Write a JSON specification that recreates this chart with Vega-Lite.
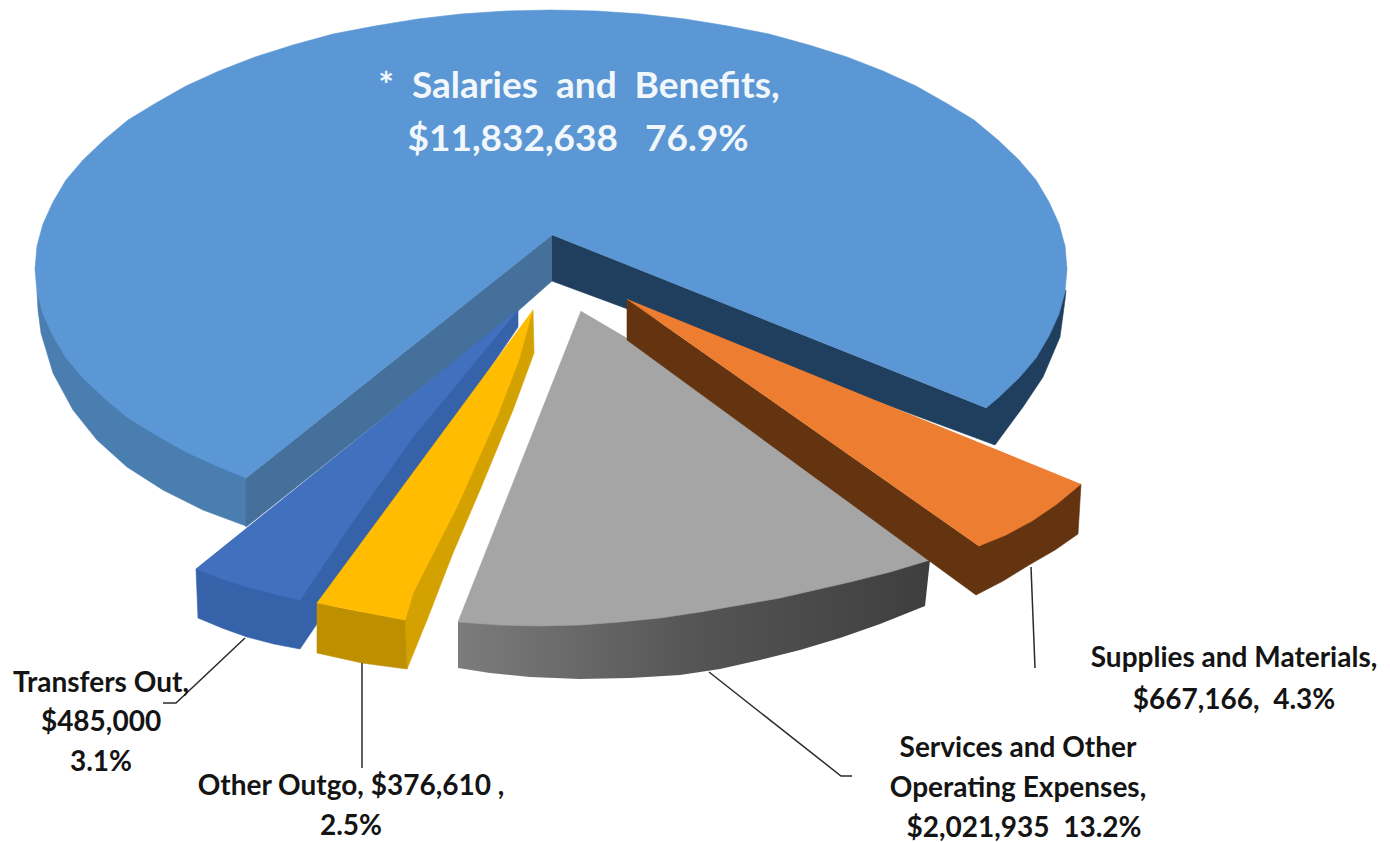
{"$schema":"https://vega.github.io/schema/vega-lite/v6.json","width":1390,"height":842,"padding":0,"autosize":"none","background":"white","config":{"view":{"stroke":null}},
"datasets":{"shapes":[
{"part":"Salaries side","i":101,"x":37,"y":292},{"part":"Salaries side","i":102,"x":38,"y":310},{"part":"Salaries side","i":103,"x":41,"y":333},{"part":"Salaries side","i":104,"x":53,"y":373},{"part":"Salaries side","i":105,"x":73,"y":410},{"part":"Salaries side","i":106,"x":97,"y":440},{"part":"Salaries side","i":107,"x":127,"y":467},{"part":"Salaries side","i":108,"x":163,"y":490},{"part":"Salaries side","i":109,"x":203,"y":510},{"part":"Salaries side","i":110,"x":246,"y":526},{"part":"Salaries side","i":111,"x":246,"y":478},
{"part":"Salaries cut left","i":201,"x":552,"y":235},{"part":"Salaries cut left","i":202,"x":246,"y":478},{"part":"Salaries cut left","i":203,"x":246,"y":527},{"part":"Salaries cut left","i":204,"x":518,"y":311},{"part":"Salaries cut left","i":205,"x":552,"y":281},
{"part":"Salaries cut right","i":301,"x":552,"y":235},{"part":"Salaries cut right","i":302,"x":986,"y":408},{"part":"Salaries cut right","i":303,"x":1066,"y":290},{"part":"Salaries cut right","i":304,"x":1065,"y":300},{"part":"Salaries cut right","i":305,"x":1060,"y":337},{"part":"Salaries cut right","i":306,"x":1043,"y":377},{"part":"Salaries cut right","i":307,"x":1023,"y":407},{"part":"Salaries cut right","i":308,"x":995,"y":445},{"part":"Salaries cut right","i":309,"x":552,"y":281},
{"part":"Salaries top","i":401,"x":552,"y":235},{"part":"Salaries top","i":402,"x":246,"y":478},{"part":"Salaries top","i":403,"x":219,"y":467},{"part":"Salaries top","i":404,"x":186,"y":452},{"part":"Salaries top","i":405,"x":156,"y":435},{"part":"Salaries top","i":406,"x":128,"y":418},{"part":"Salaries top","i":407,"x":104,"y":398},{"part":"Salaries top","i":408,"x":83,"y":378},{"part":"Salaries top","i":409,"x":66,"y":358},{"part":"Salaries top","i":410,"x":53,"y":336},{"part":"Salaries top","i":411,"x":43,"y":314},{"part":"Salaries top","i":412,"x":37,"y":292},{"part":"Salaries top","i":413,"x":35,"y":269},{"part":"Salaries top","i":414,"x":37,"y":246},{"part":"Salaries top","i":415,"x":43,"y":224},{"part":"Salaries top","i":416,"x":53,"y":202},{"part":"Salaries top","i":417,"x":66,"y":180},{"part":"Salaries top","i":418,"x":83,"y":160},{"part":"Salaries top","i":419,"x":104,"y":140},{"part":"Salaries top","i":420,"x":128,"y":120},{"part":"Salaries top","i":421,"x":156,"y":103},{"part":"Salaries top","i":422,"x":186,"y":86},{"part":"Salaries top","i":423,"x":219,"y":71},{"part":"Salaries top","i":424,"x":255,"y":57},{"part":"Salaries top","i":425,"x":293,"y":45},{"part":"Salaries top","i":426,"x":333,"y":34},{"part":"Salaries top","i":427,"x":375,"y":26},{"part":"Salaries top","i":428,"x":418,"y":19},{"part":"Salaries top","i":429,"x":461,"y":14},{"part":"Salaries top","i":430,"x":506,"y":11},{"part":"Salaries top","i":431,"x":551,"y":10},{"part":"Salaries top","i":432,"x":596,"y":11},{"part":"Salaries top","i":433,"x":641,"y":14},{"part":"Salaries top","i":434,"x":685,"y":19},{"part":"Salaries top","i":435,"x":728,"y":26},{"part":"Salaries top","i":436,"x":769,"y":34},{"part":"Salaries top","i":437,"x":809,"y":45},{"part":"Salaries top","i":438,"x":847,"y":57},{"part":"Salaries top","i":439,"x":883,"y":71},{"part":"Salaries top","i":440,"x":916,"y":86},{"part":"Salaries top","i":441,"x":946,"y":103},{"part":"Salaries top","i":442,"x":974,"y":120},{"part":"Salaries top","i":443,"x":998,"y":140},{"part":"Salaries top","i":444,"x":1019,"y":160},{"part":"Salaries top","i":445,"x":1036,"y":180},{"part":"Salaries top","i":446,"x":1049,"y":202},{"part":"Salaries top","i":447,"x":1059,"y":224},{"part":"Salaries top","i":448,"x":1065,"y":246},{"part":"Salaries top","i":449,"x":1067,"y":269},{"part":"Salaries top","i":450,"x":1065,"y":292},{"part":"Salaries top","i":451,"x":1059,"y":314},{"part":"Salaries top","i":452,"x":1049,"y":336},{"part":"Salaries top","i":453,"x":1036,"y":358},{"part":"Salaries top","i":454,"x":1019,"y":378},{"part":"Salaries top","i":455,"x":998,"y":398},{"part":"Salaries top","i":456,"x":986,"y":408},
{"part":"Transfers side","i":501,"x":518,"y":310},{"part":"Transfers side","i":502,"x":518,"y":327},{"part":"Transfers side","i":503,"x":300,"y":649},{"part":"Transfers side","i":504,"x":274,"y":644},{"part":"Transfers side","i":505,"x":247,"y":637},{"part":"Transfers side","i":506,"x":222,"y":628},{"part":"Transfers side","i":507,"x":198,"y":618},{"part":"Transfers side","i":508,"x":196,"y":569},
{"part":"Transfers top","i":601,"x":518,"y":310},{"part":"Transfers top","i":602,"x":196,"y":569},{"part":"Transfers top","i":603,"x":222,"y":579},{"part":"Transfers top","i":604,"x":247,"y":587},{"part":"Transfers top","i":605,"x":274,"y":594},{"part":"Transfers top","i":606,"x":300,"y":600},{"part":"Transfers top","i":607,"x":347,"y":530},{"part":"Transfers top","i":608,"x":413,"y":437},{"part":"Transfers top","i":609,"x":463,"y":377},
{"part":"Outgo side","i":701,"x":533,"y":310},{"part":"Outgo side","i":702,"x":534,"y":353},{"part":"Outgo side","i":703,"x":513,"y":410},{"part":"Outgo side","i":704,"x":480,"y":490},{"part":"Outgo side","i":705,"x":453,"y":553},{"part":"Outgo side","i":706,"x":427,"y":620},{"part":"Outgo side","i":707,"x":407,"y":669},{"part":"Outgo side","i":708,"x":405,"y":620},{"part":"Outgo side","i":709,"x":413,"y":593},
{"part":"Outgo front","i":801,"x":317,"y":603},{"part":"Outgo front","i":802,"x":317,"y":653},{"part":"Outgo front","i":803,"x":362,"y":663},{"part":"Outgo front","i":804,"x":407,"y":669},{"part":"Outgo front","i":805,"x":405,"y":620},{"part":"Outgo front","i":806,"x":363,"y":612},
{"part":"Outgo top","i":901,"x":533,"y":310},{"part":"Outgo top","i":902,"x":317,"y":603},{"part":"Outgo top","i":903,"x":363,"y":612},{"part":"Outgo top","i":904,"x":405,"y":620},{"part":"Outgo top","i":905,"x":413,"y":593},{"part":"Outgo top","i":906,"x":457,"y":507},{"part":"Outgo top","i":907,"x":497,"y":417},{"part":"Outgo top","i":908,"x":520,"y":357},
{"part":"Services top","i":1101,"x":581,"y":311},{"part":"Services top","i":1102,"x":458,"y":622},{"part":"Services top","i":1103,"x":500,"y":625},{"part":"Services top","i":1104,"x":540,"y":626},{"part":"Services top","i":1105,"x":580,"y":625},{"part":"Services top","i":1106,"x":620,"y":622},{"part":"Services top","i":1107,"x":660,"y":618},{"part":"Services top","i":1108,"x":700,"y":612},{"part":"Services top","i":1109,"x":740,"y":605},{"part":"Services top","i":1110,"x":780,"y":598},{"part":"Services top","i":1111,"x":815,"y":590},{"part":"Services top","i":1112,"x":850,"y":582},{"part":"Services top","i":1113,"x":890,"y":572},{"part":"Services top","i":1114,"x":930,"y":560},{"part":"Services top","i":1115,"x":930,"y":552},{"part":"Services top","i":1116,"x":627,"y":338},
{"part":"Supplies side","i":1201,"x":627,"y":299},{"part":"Supplies side","i":1202,"x":627,"y":340},{"part":"Supplies side","i":1203,"x":976,"y":595},{"part":"Supplies side","i":1204,"x":1003,"y":581},{"part":"Supplies side","i":1205,"x":1029,"y":565},{"part":"Supplies side","i":1206,"x":1055,"y":550},{"part":"Supplies side","i":1207,"x":1078,"y":534},{"part":"Supplies side","i":1208,"x":1081,"y":484},{"part":"Supplies side","i":1209,"x":979,"y":546},
{"part":"Supplies top","i":1301,"x":627,"y":299},{"part":"Supplies top","i":1302,"x":979,"y":546},{"part":"Supplies top","i":1303,"x":1006,"y":535},{"part":"Supplies top","i":1304,"x":1032,"y":521},{"part":"Supplies top","i":1305,"x":1057,"y":504},{"part":"Supplies top","i":1306,"x":1081,"y":484}
],
"serviceside":[
{"part":"Services side","i":1,"x":458,"y":622},{"part":"Services side","i":2,"x":458,"y":668},{"part":"Services side","i":3,"x":490,"y":673},{"part":"Services side","i":4,"x":530,"y":677},{"part":"Services side","i":5,"x":580,"y":679},{"part":"Services side","i":6,"x":630,"y":678},{"part":"Services side","i":7,"x":680,"y":675},{"part":"Services side","i":8,"x":720,"y":669},{"part":"Services side","i":9,"x":760,"y":660},{"part":"Services side","i":10,"x":800,"y":650},{"part":"Services side","i":11,"x":840,"y":638},{"part":"Services side","i":12,"x":880,"y":624},{"part":"Services side","i":13,"x":925,"y":606},{"part":"Services side","i":14,"x":930,"y":560},{"part":"Services side","i":15,"x":700,"y":612}
],
"leaders":[
{"slice":"Transfers Out","i":1,"x":245,"y":638},{"slice":"Transfers Out","i":2,"x":176,"y":703},{"slice":"Transfers Out","i":3,"x":163,"y":703},
{"slice":"Other Outgo","i":1,"x":362,"y":663},{"slice":"Other Outgo","i":2,"x":362,"y":768},
{"slice":"Services","i":1,"x":709,"y":672},{"slice":"Services","i":2,"x":841,"y":776},{"slice":"Services","i":3,"x":852,"y":776},
{"slice":"Supplies","i":1,"x":1031,"y":567},{"slice":"Supplies","i":2,"x":1035,"y":668}
],
"labels":[
{"text":"Transfers Out,","x":101,"y":684},{"text":"$485,000","x":101,"y":723},{"text":"3.1%","x":101,"y":763},
{"text":"Other Outgo, $376,610 ,","x":351,"y":787},{"text":"2.5%","x":351,"y":827},
{"text":"Services and Other","x":1018,"y":749},{"text":"Operating Expenses,","x":1018,"y":789},{"text":"$2,021,935\u00a0\u00a013.2%","x":1024,"y":829},
{"text":"Supplies and Materials,","x":1234,"y":659},{"text":"$667,166,\u00a0\u00a04.3%","x":1234,"y":701}
],
"mainlabels":[
{"text":"*\u00a0\u00a0Salaries\u00a0\u00a0and\u00a0\u00a0Benefits,","x":579,"y":87},{"text":"$11,832,638\u00a0\u00a0\u00a076.9%","x":578,"y":140}
]},
"encoding":{"x":{"field":"x","type":"quantitative","axis":null,"scale":{"domain":[0,1390],"nice":false,"zero":false}},"y":{"field":"y","type":"quantitative","axis":null,"scale":{"domain":[0,842],"reverse":true,"nice":false,"zero":false}}},
"layer":[
{"data":{"name":"shapes"},"transform":[{"filter":"datum.i<1000"}],"mark":{"type":"line","filled":true,"strokeWidth":0.6},"encoding":{"order":{"field":"i","type":"quantitative"},
"fill":{"field":"part","type":"nominal","legend":null,"scale":{"domain":["Salaries side","Salaries cut left","Salaries cut right","Salaries top","Transfers side","Transfers top","Outgo side","Outgo front","Outgo top","Services top","Supplies side","Supplies top"],"range":["#4A7DB0","#44709B","#203F5E","#5B97D4","#3662AA","#4170BF","#D4A200","#BE9000","#FFBC00","#A5A5A5","#63340F","#ED7D31"]}},
"stroke":{"field":"part","type":"nominal","legend":null,"scale":{"domain":["Salaries side","Salaries cut left","Salaries cut right","Salaries top","Transfers side","Transfers top","Outgo side","Outgo front","Outgo top","Services top","Supplies side","Supplies top"],"range":["#4A7DB0","#44709B","#203F5E","#5B97D4","#3662AA","#4170BF","#D4A200","#BE9000","#FFBC00","#A5A5A5","#63340F","#ED7D31"]}}}},
{"data":{"name":"serviceside"},"mark":{"type":"line","filled":true,"fill":{"gradient":"linear","x1":0,"x2":1,"y1":0,"y2":0,"stops":[{"offset":0,"color":"#7C7C7C"},{"offset":0.5,"color":"#555555"},{"offset":1,"color":"#3E3E3E"}]}},"encoding":{"order":{"field":"i","type":"quantitative"}}},
{"data":{"name":"shapes"},"transform":[{"filter":"datum.i>1000"}],"mark":{"type":"line","filled":true,"strokeWidth":0.6},"encoding":{"order":{"field":"i","type":"quantitative"},
"fill":{"field":"part","type":"nominal","legend":null,"scale":{"domain":["Salaries side","Salaries cut left","Salaries cut right","Salaries top","Transfers side","Transfers top","Outgo side","Outgo front","Outgo top","Services top","Supplies side","Supplies top"],"range":["#4A7DB0","#44709B","#203F5E","#5B97D4","#3662AA","#4170BF","#D4A200","#BE9000","#FFBC00","#A5A5A5","#63340F","#ED7D31"]}},
"stroke":{"field":"part","type":"nominal","legend":null,"scale":{"domain":["Salaries side","Salaries cut left","Salaries cut right","Salaries top","Transfers side","Transfers top","Outgo side","Outgo front","Outgo top","Services top","Supplies side","Supplies top"],"range":["#4A7DB0","#44709B","#203F5E","#5B97D4","#3662AA","#4170BF","#D4A200","#BE9000","#FFBC00","#A5A5A5","#63340F","#ED7D31"]}}}},
{"data":{"name":"leaders"},"mark":{"type":"line","color":"#2b2b2b","strokeWidth":1.5},"encoding":{"detail":{"field":"slice"},"order":{"field":"i","type":"quantitative"}}},
{"data":{"name":"labels"},"mark":{"type":"text","font":"Lato","fontWeight":"bold","fontSize":28,"align":"center","baseline":"middle","color":"#141414"},"encoding":{"text":{"field":"text"}}},
{"data":{"name":"mainlabels"},"mark":{"type":"text","font":"Lato","fontWeight":"bold","fontSize":37,"align":"center","baseline":"middle","color":"#F2F7FC"},"encoding":{"text":{"field":"text"}}}
]}
